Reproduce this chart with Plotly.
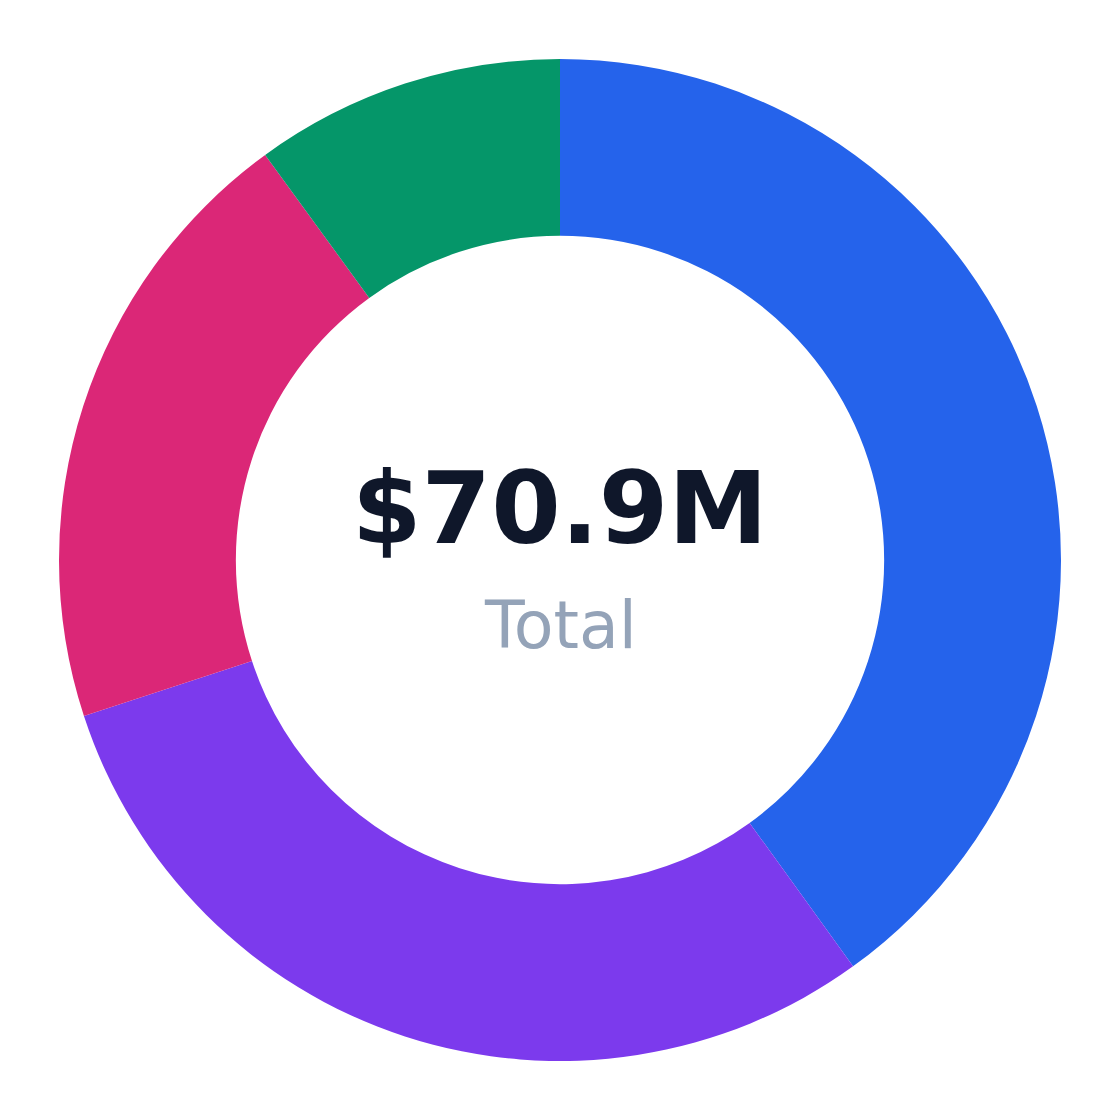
import plotly.graph_objects as go

categories = ["Segment A", "Segment B", "Segment C", "Segment D"]
values = [28.4, 21.2, 14.2, 7.1]  # $M
colors = ["#2563EB", "#7C3AED", "#DB2777", "#059669"]
total_label = "$70.9M"
sub_label = "Total"

fig = go.Figure(
    go.Pie(
        labels=categories,
        values=values,
        hole=0.647,
        sort=False,
        direction="clockwise",
        rotation=0,
        marker=dict(colors=colors, line=dict(width=0)),
        textinfo="none",
        hoverinfo="label+value+percent",
        showlegend=False,
    )
)

fig.add_annotation(
    text=f"<b>{total_label}</b>", x=0.5, y=0.5, xref="paper", yref="paper",
    xanchor="center", yanchor="middle", yshift=52, showarrow=False,
    font=dict(family="DejaVu Sans", size=100, color="#0F172A"),
)
fig.add_annotation(
    text=sub_label, x=0.5, y=0.5, xref="paper", yref="paper",
    xanchor="center", yanchor="middle", yshift=-65, showarrow=False,
    font=dict(family="DejaVu Sans", size=65, color="#94A3B8"),
)

fig.update_layout(
    width=1120, height=1120,
    margin=dict(l=51, r=67, t=51, b=67),
    paper_bgcolor="white", plot_bgcolor="white",
)

fig.write_html("out.html")
